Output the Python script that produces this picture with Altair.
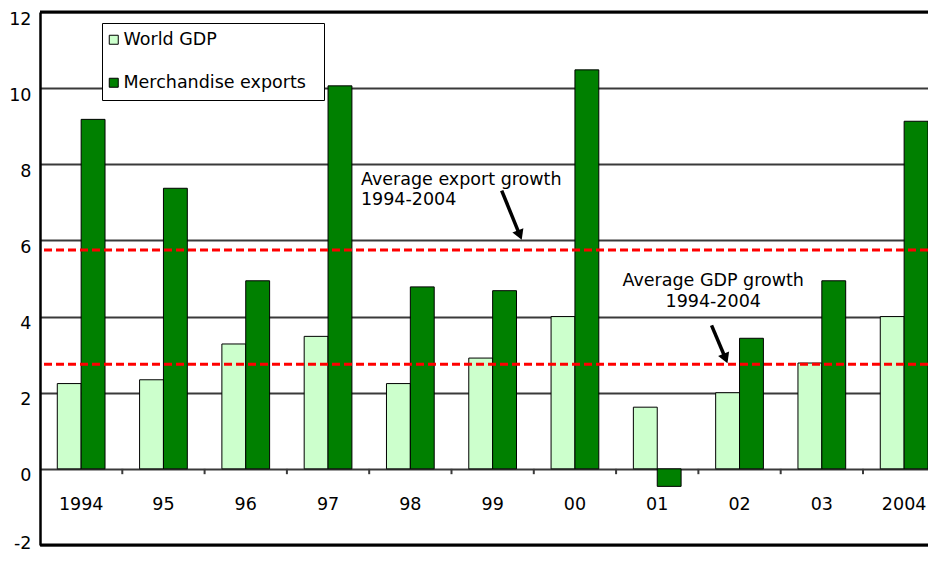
import altair as alt
import pandas as pd

# ---- data ----
years = ["1994", "95", "96", "97", "98", "99", "00", "01", "02", "03", "2004"]
gdp = [2.24, 2.34, 3.28, 3.48, 2.24, 2.91, 4.00, 1.62, 2.00, 2.78, 4.00]
exports = [9.18, 7.37, 4.94, 10.06, 4.78, 4.68, 10.48, -0.46, 3.43, 4.94, 9.13]
series_names = ["World GDP", "Merchandise exports"]
series_colors = ["#CCFFCC", "#008000"]
avg_values = [5.75, 2.75]
y_ticks = [-2, 0, 2, 4, 6, 8, 10, 12]
frame_lines = [12, -2]

ann_text = ["Average export growth", "1994-2004", "Average GDP growth", "1994-2004"]
ann_x = [3.40, 3.40, 7.68, 7.68]
ann_y = [7.58, 7.05, 4.94, 4.37]
ann_align = ["left", "left", "center", "center"]

arrow_x = [5.11, 7.66]
arrow_y = [7.31, 3.77]
arrow_x2 = [5.33, 7.83]
arrow_y2 = [6.14, 2.90]

FONT = "DejaVu Sans"
FS = 17.5
BAR_W = 0.29

# ---- tables ----
rows = []
for i, (g, e) in enumerate(zip(gdp, exports)):
    rows.append({"year": years[i], "series": series_names[0], "value": g, "x": i - BAR_W, "x2": i})
    rows.append({"year": years[i], "series": series_names[1], "value": e, "x": i, "x2": i + BAR_W})
bars_df = pd.DataFrame(rows)
labels_df = pd.DataFrame({"i": list(range(len(years))), "label": years})
ticks_df = pd.DataFrame({"tx": [i + 0.5 for i in range(len(years) - 1)]})
avg_df = pd.DataFrame({"avg": avg_values})
frame_df = pd.DataFrame({"fy": frame_lines})
ann_df = pd.DataFrame({"t": ann_text, "ax": ann_x, "ay": ann_y, "al": ann_align})
arrow_df = pd.DataFrame({"x": arrow_x, "y": arrow_y, "x2": arrow_x2, "y2": arrow_y2})

xscale = alt.Scale(domain=[-0.5, 10.29], nice=False, zero=False)
yscale = alt.Scale(domain=[-2, 12], nice=False, zero=False)
yaxis = alt.Axis(
    values=y_ticks, grid=True, gridColor="#3a3a3a", gridWidth=2,
    ticks=False, domainColor="black", domainWidth=2.5,
    labelFont=FONT, labelFontSize=FS, labelColor="black",
    labelExpr="datum.value < 0 ? '-' + abs(datum.value) : datum.label",
    labelBaseline={"condition": {"test": "datum.value <= -2", "value": "middle"}, "value": "top"},
    labelPadding=9, labelOffset=-2, title=None)


def Y(field):
    return alt.Y(field, scale=yscale, axis=yaxis, title=None)


def X(field):
    return alt.X(field, scale=xscale, axis=None)


bars = alt.Chart(bars_df).mark_bar(stroke="black", strokeWidth=1, clip=True).encode(
    x=X("x:Q"),
    x2="x2:Q",
    y=Y("value:Q"),
    y2=alt.datum(0),
    color=alt.Color("series:N", scale=alt.Scale(domain=series_names, range=series_colors),
                    legend=alt.Legend(
                        title=" ", titleOrient="right", titlePadding=10,
                        titleFontSize=FS, titleFont=FONT,
                        orient="none", legendX=62, legendY=11,
                        fillColor="white", strokeColor="black", padding=8,
                        rowPadding=24, symbolType="square", symbolSize=81,
                        symbolStrokeColor="black", symbolStrokeWidth=1,
                        symbolOffset=-5,
                        labelFont=FONT, labelFontSize=FS, labelColor="black",
                        labelOffset=1, labelLimit=400)),
)

avg_rules = alt.Chart(avg_df).mark_rule(color="#FF0000", strokeWidth=3, strokeDash=[8, 4]).encode(
    y=Y("avg:Q")
)

frame = alt.Chart(frame_df).mark_rule(color="black", strokeWidth=3).encode(
    y=Y("fy:Q")
)

ticks = alt.Chart(ticks_df).mark_rule(color="#3a3a3a", strokeWidth=2).encode(
    x=X("tx:Q"),
    y=alt.datum(0),
    y2=alt.datum(-0.14),
)

xlabels = alt.Chart(labels_df).mark_text(font=FONT, fontSize=FS, color="black", baseline="middle").encode(
    x=X("i:Q"),
    y=alt.datum(-0.95),
    text="label:N",
)

ann_left = alt.Chart(ann_df).transform_filter("datum.al == 'left'").mark_text(
    font=FONT, fontSize=FS, color="black", baseline="middle", align="left").encode(
    x=X("ax:Q"),
    y=Y("ay:Q"),
    text="t:N",
)
ann_center = alt.Chart(ann_df).transform_filter("datum.al == 'center'").mark_text(
    font=FONT, fontSize=FS, color="black", baseline="middle", align="center").encode(
    x=X("ax:Q"),
    y=Y("ay:Q"),
    text="t:N",
)

arrows = alt.Chart(arrow_df).mark_rule(color="black", strokeWidth=3.5).encode(
    x=X("x:Q"),
    y=Y("y:Q"),
    x2="x2:Q",
    y2="y2:Q",
)
heads = alt.Chart(arrow_df).mark_point(shape="triangle-down", filled=True, color="black",
                                      size=140, angle=338, opacity=1).encode(
    x=X("x2:Q"),
    y=Y("y2:Q"),
)

chart = alt.layer(bars, avg_rules, frame, ticks, xlabels, ann_left, ann_center, arrows, heads).properties(
    width=888, height=533,
    padding={"left": 32, "top": 4, "right": 0, "bottom": 14},
    autosize=alt.AutoSizeParams(type="none"),
).configure_view(strokeWidth=0).configure(background="white")

chart.save("out.html", embed_options={"renderer": "svg", "actions": False})
